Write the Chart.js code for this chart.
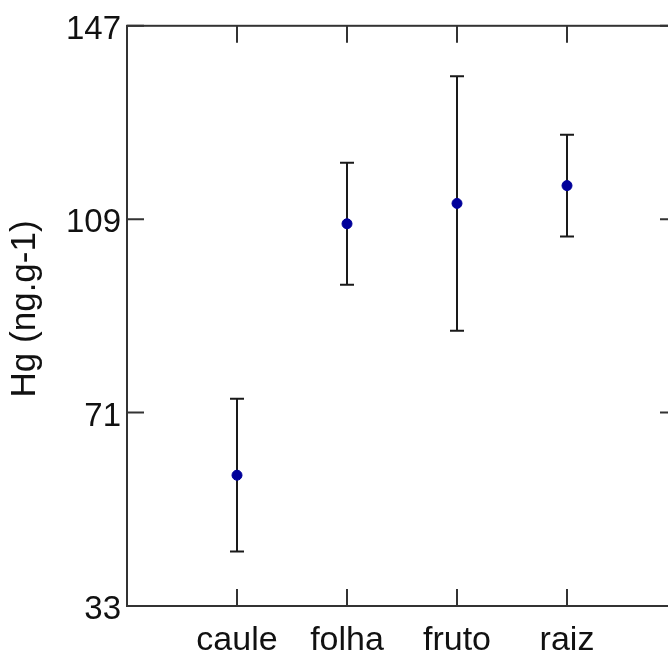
<!DOCTYPE html>
<html>
<head>
<meta charset="utf-8">
<script src="https://cdn.jsdelivr.net/npm/chart.js@4"></script>
<style>
  html, body { margin: 0; padding: 0; background: #fff; overflow: hidden; }
  #wrap { width: 668px; height: 655px; overflow: hidden; }
  canvas { display: block; }
</style>
</head>
<body>
<div id="wrap"><canvas id="c" width="700" height="655"></canvas></div>
<script>
const categories = ['caule', 'folha', 'fruto', 'raiz'];
const meanValues = [58.7, 108.1, 112.1, 115.6];
const errorValues = [15.0, 12.0, 25.0, 10.0];
const yTicks = [33, 71, 109, 147];
const yTitle = 'Hg (ng.g-1)';

const FONT = 'Liberation Sans, Arial, sans-serif';

const points = categories.map((c, i) => ({ x: i + 1, y: meanValues[i], err: errorValues[i] }));

const framePlugin = {
  id: 'frameAndBars',
  beforeDatasetsDraw(chart) {
    const { ctx, chartArea: a, scales } = chart;
    const xs = scales.x, ys = scales.y;
    ctx.save();
    // error bars
    ctx.strokeStyle = '#1a1a1a';
    ctx.lineWidth = 2;
    points.forEach(p => {
      const px = xs.getPixelForValue(p.x);
      const yTop = ys.getPixelForValue(p.y + p.err);
      const yBot = ys.getPixelForValue(p.y - p.err);
      ctx.beginPath();
      ctx.moveTo(px, yTop); ctx.lineTo(px, yBot);
      ctx.moveTo(px - 7, yTop); ctx.lineTo(px + 7, yTop);
      ctx.moveTo(px - 7, yBot); ctx.lineTo(px + 7, yBot);
      ctx.stroke();
    });
    // inward ticks
    const TL = 17;
    ctx.strokeStyle = '#333';
    ctx.lineWidth = 2;
    ctx.beginPath();
    xs.ticks.forEach(t => {
      const px = xs.getPixelForValue(t.value);
      ctx.moveTo(px, a.bottom); ctx.lineTo(px, a.bottom - TL);
      ctx.moveTo(px, a.top); ctx.lineTo(px, a.top + TL);
    });
    ys.ticks.forEach(t => {
      const py = ys.getPixelForValue(t.value);
      ctx.moveTo(a.left, py); ctx.lineTo(a.left + TL, py);
      ctx.moveTo(a.right, py); ctx.lineTo(a.right - TL, py);
    });
    ctx.stroke();
    // frame
    ctx.strokeRect(a.left, a.top, a.right - a.left, a.bottom - a.top);
    // y-axis title
    ctx.translate(25, (a.top + a.bottom) / 2 - 7);
    ctx.rotate(-Math.PI / 2);
    ctx.fillStyle = '#111';
    ctx.font = '35px ' + FONT;
    ctx.textAlign = 'center';
    ctx.textBaseline = 'middle';
    ctx.fillText(yTitle, 0, 0);
    ctx.restore();
  }
};

new Chart(document.getElementById('c'), {
  type: 'scatter',
  data: {
    datasets: [{
      data: points,
      backgroundColor: '#00009a',
      borderColor: '#00009a',
      pointRadius: 5,
      pointHoverRadius: 5,
      showLine: false
    }]
  },
  options: {
    responsive: false,
    animation: false,
    devicePixelRatio: 1,
    layout: { padding: { top: 25, right: 23, left: 0, bottom: 0 } },
    plugins: { legend: { display: false }, tooltip: { enabled: false } },
    scales: {
      x: {
        type: 'linear',
        min: 0,
        max: 5,
        afterBuildTicks(scale) {
          scale.ticks = categories.map((c, i) => ({ value: i + 1 }));
        },
        afterFit(scale) { scale.height = 49; },
        grid: { display: false, drawTicks: false },
        border: { display: false },
        ticks: {
          autoSkip: false,
          maxRotation: 0,
          padding: 14,
          color: '#111',
          font: { family: FONT, size: 34 },
          callback: (v) => categories[v - 1] ?? ''
        }
      },
      y: {
        type: 'linear',
        min: yTicks[0],
        max: yTicks[yTicks.length - 1],
        afterBuildTicks(scale) {
          scale.ticks = yTicks.map(v => ({ value: v }));
        },
        afterFit(scale) { scale.width = 127; },
        grid: { display: false, drawTicks: false },
        border: { display: false },
        ticks: {
          padding: 6,
          labelOffset: 4,
          color: '#111',
          font: { family: FONT, size: 33 }
        },
        title: { display: false }
      }
    }
  },
  plugins: [framePlugin]
});
</script>
</body>
</html>
